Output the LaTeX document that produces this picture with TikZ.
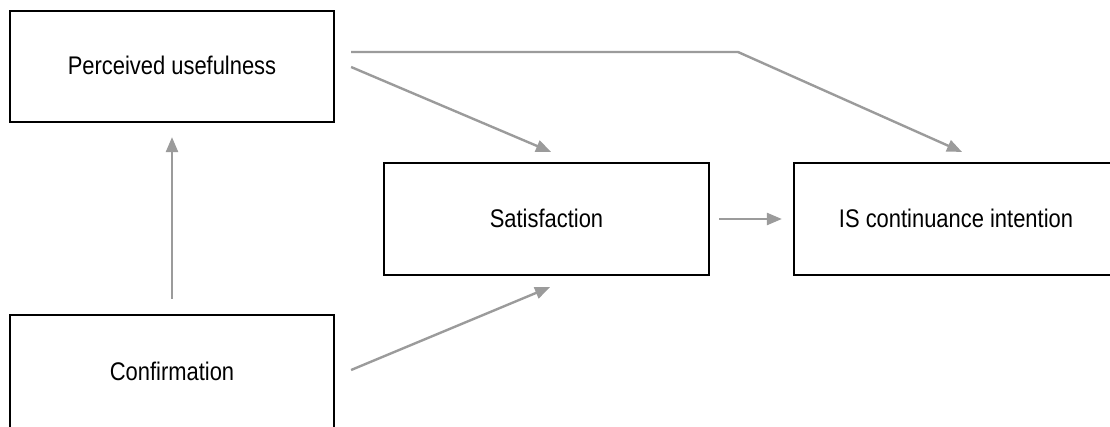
\documentclass[tikz,border=0pt]{standalone}
\usepackage{fontspec}
\setmainfont{Liberation Sans}[FakeStretch=0.86]
\usetikzlibrary{arrows.meta,calc}
\definecolor{linkgray}{RGB}{155,155,155}
\begin{document}
\begin{tikzpicture}[x=1pt,y=-1pt,
  construct/.style={draw=black,line width=2.2pt,fill=white,
    minimum width=324pt,minimum height=111pt,inner sep=0pt,
    font=\fontsize{25.5}{30}\selectfont},
  link/.style={draw=linkgray,line width=2.4pt,
    -{Triangle[length=15pt,width=12pt]}}]
  \useasboundingbox (0,0) rectangle (1110,426);

  % constructs of the expectation-confirmation model
  \node[construct] (pu)   at (172,66.5)  {\raisebox{2pt}{Perceived usefulness}};
  \node[construct,minimum height=115pt] (conf) at (172,372.5) {\raisebox{2pt}{Confirmation}};
  \node[construct,minimum width=325pt,minimum height=112pt] (sat) at (546.5,219) {\raisebox{1pt}{Satisfaction}};
  \node[construct,minimum width=324pt,minimum height=112pt] (is)  at (956,219)   {\raisebox{1pt}{IS continuance intention}};

  % hypothesised paths
  \draw[link] (conf.north) ++(0,-15) -- ($(pu.south)+(0,14)$);
  \draw[link] ($(pu.east)+(16,0.5)$) -- ($(sat.north)+(4.5,-10)$);
  \draw[link] ($(conf.east)+(16,-2.5)$) -- ($(sat.south)+(3.5,11)$);
  \draw[link] ($(pu.east)+(16,-14.5)$) -- (738,52) -- ($(is.north)+(6,-10)$);
  \draw[link,shorten <=9pt,shorten >=11pt] (sat.east) -- (is.west);
\end{tikzpicture}
\end{document}
